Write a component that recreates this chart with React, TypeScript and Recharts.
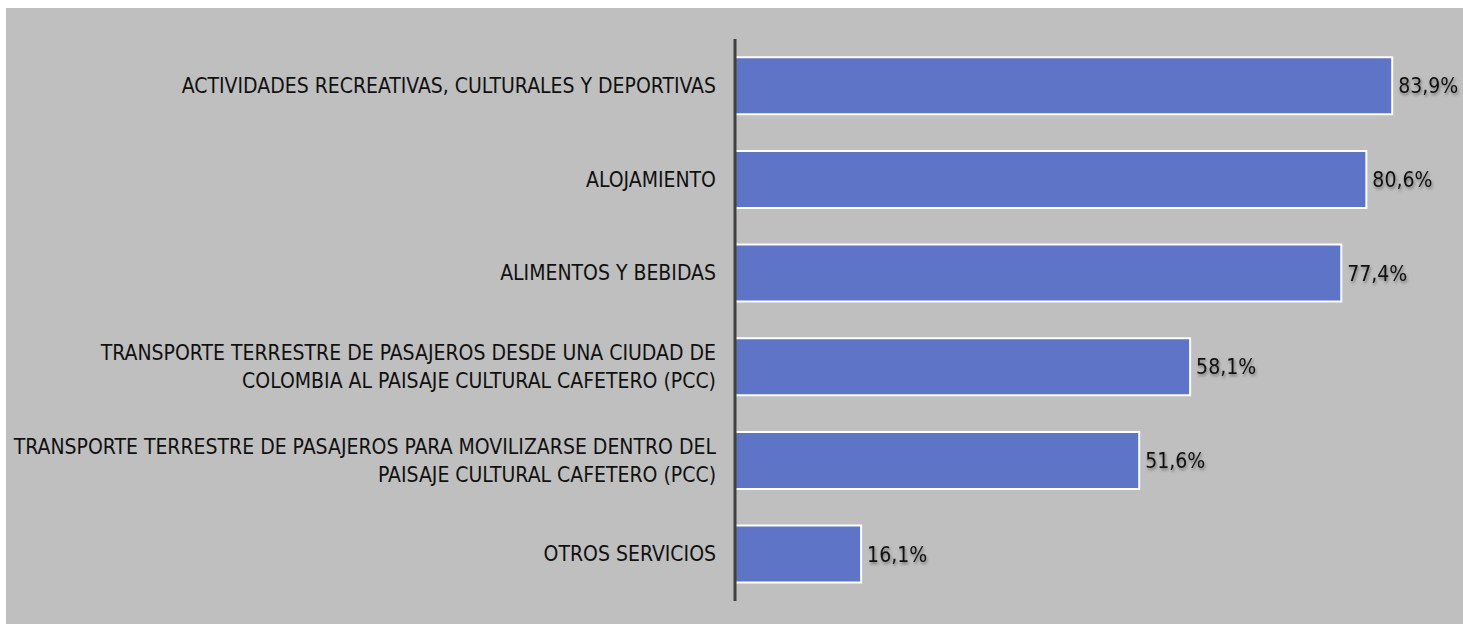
import * as React from "react";
import { BarChart, Bar, XAxis, YAxis, LabelList } from "recharts";

const categories = [
  "ACTIVIDADES RECREATIVAS, CULTURALES Y DEPORTIVAS",
  "ALOJAMIENTO",
  "ALIMENTOS Y BEBIDAS",
  "TRANSPORTE TERRESTRE DE PASAJEROS DESDE UNA CIUDAD DE\nCOLOMBIA AL PAISAJE CULTURAL CAFETERO (PCC)",
  "TRANSPORTE TERRESTRE DE PASAJEROS PARA MOVILIZARSE DENTRO DEL\nPAISAJE CULTURAL CAFETERO (PCC)",
  "OTROS SERVICIOS",
];
const values = [83.9, 80.6, 77.4, 58.1, 51.6, 16.1];

const chartData = categories.map((name, i) => ({ name, value: values[i] }));

const FONT = "'DejaVu Sans Condensed', sans-serif";

const fmt = (v: any) => `${Number(v).toFixed(1).replace(".", ",")}%`;

function CategoryTick(props: any) {
  const { x, y, payload } = props;
  const lines = String(payload.value).split("\n");
  const lh = 28;
  const start = -((lines.length - 1) * lh) / 2;
  return (
    <text x={x} y={y} textAnchor="end" fontFamily={FONT} fontSize={21} fill="#111">
      {lines.map((l, i) => (
        <tspan key={i} x={x} dy={i === 0 ? start + 7 : lh}>
          {l}
        </tspan>
      ))}
    </text>
  );
}

export default function App() {
  return (
    <div
      style={{
        position: "absolute",
        left: 6,
        top: 8,
        width: 1457,
        height: 616,
        background: "#bfbfbf",
      }}
    >
      <BarChart
        width={1457}
        height={616}
        data={chartData}
        layout="vertical"
        margin={{ top: 31, right: 23, bottom: 23, left: 0 }}
        barCategoryGap="19.5%"
      >
        <XAxis type="number" domain={[0, 90]} hide />
        <YAxis
          type="category"
          dataKey="name"
          width={729}
          tickLine={false}
          tickSize={0}
          tickMargin={19}
          axisLine={{ stroke: "#404040", strokeWidth: 3 }}
          tick={<CategoryTick />}
          interval={0}
        />
        <Bar dataKey="value" fill="#5e74c6" stroke="#ffffff" strokeWidth={2} isAnimationActive={false}>
          <LabelList
            dataKey="value"
            position="right"
            offset={6}
            formatter={fmt}
            style={{ filter: "drop-shadow(1px 2px 1.5px rgba(0,0,0,0.4))" }}
            fontFamily={FONT}
            fontSize={21}
            fill="#111"
          />
        </Bar>
      </BarChart>
    </div>
  );
}
